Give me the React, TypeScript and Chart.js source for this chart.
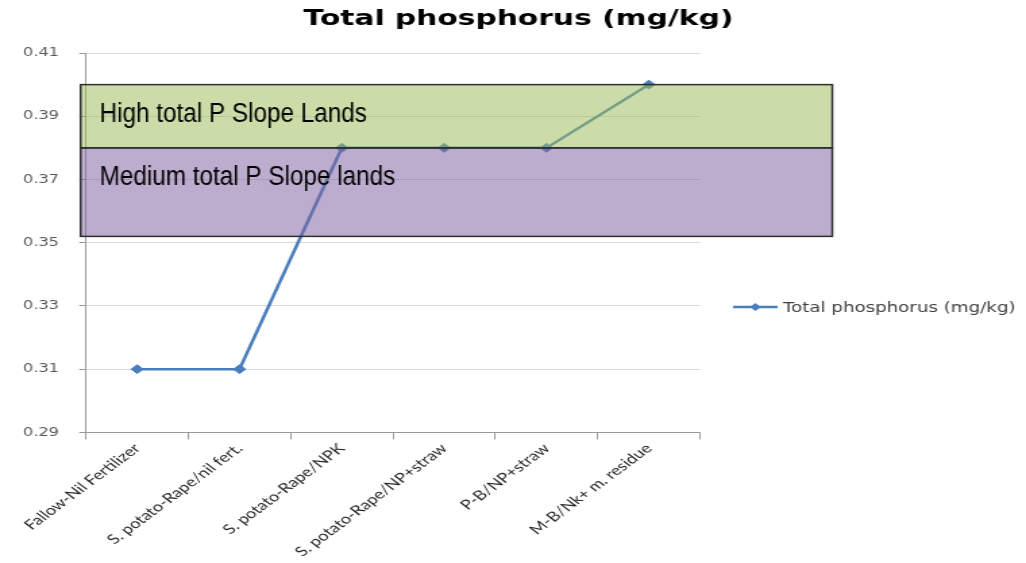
import { useEffect, useRef } from 'react';
import { Chart, registerables } from 'chart.js';

Chart.register(...registerables);

// ---- data ----
const chartTitle = 'Total phosphorus (mg/kg)';
const seriesLabel = 'Total phosphorus (mg/kg)';
const categories = [
  'Fallow-Nil Fertilizer',
  'S. potato-Rape/nil fert.',
  'S. potato-Rape/NPK',
  'S. potato-Rape/NP+straw',
  'P-B/NP+straw',
  'M-B/Nk+ m. residue',
];
const totalPhosphorus = [0.31, 0.31, 0.38, 0.38, 0.38, 0.4];
const yMin = 0.29;
const yMax = 0.41;
const yStep = 0.02;

const bandLabels = ['High total P Slope Lands', 'Medium total P Slope lands'];
const bandUpper = [0.4, 0.38];
const bandLower = [0.38, 0.352];

// ---- styling ----
const PAGE_W = 1026;
const PAGE_H = 563;
const STRETCH_X = 1.35; // the reference picture is horizontally stretched
const CANVAS_W = Math.round(PAGE_W / STRETCH_X);

const LINE_COLOR = '#4a7ebb';
const AXIS_COLOR = '#9a9a9a';
const bandFill = ['rgba(155,187,89,0.52)', 'rgba(128,100,162,0.53)'];

const titlePlugin = {
  id: 'topTitle',
  afterDraw(chart: any) {
    const { ctx } = chart;
    ctx.save();
    ctx.fillStyle = '#000';
    ctx.font = 'bold 22px "DejaVu Sans", sans-serif';
    ctx.textAlign = 'center';
    ctx.textBaseline = 'middle';
    ctx.fillText(chartTitle, chart.width / 2 + 4, 19.5);
    ctx.restore();
  },
};

const bandsPlugin = {
  id: 'bands',
  afterDraw(chart: any) {
    const { ctx, chartArea, scales } = chart;
    const y = scales.y;
    const left = chartArea.left - 4;
    const right = chartArea.right + 98;
    ctx.save();
    const rects = bandLabels.map((_, i) => ({
      top: y.getPixelForValue(bandUpper[i]),
      bottom: y.getPixelForValue(bandLower[i]),
    }));
    rects.forEach((r, i) => {
      ctx.fillStyle = bandFill[i];
      ctx.fillRect(left, r.top, right - left, r.bottom - r.top);
    });
    ctx.lineWidth = 1.5;
    ctx.strokeStyle = '#2e2e2e';
    rects.forEach((r) => {
      ctx.strokeRect(left, r.top, right - left, r.bottom - r.top);
    });
    ctx.fillStyle = '#000';
    ctx.font = '18px "Liberation Sans", Arial, sans-serif';
    ctx.textAlign = 'left';
    ctx.textBaseline = 'middle';
    rects.forEach((r, i) => {
      ctx.save();
      ctx.translate(left + 14, r.top + 30);
      ctx.scale(1, 1.5);
      ctx.fillText(bandLabels[i], 0, 0);
      ctx.restore();
    });
    ctx.restore();
  },
};

const sideLegendPlugin = {
  id: 'sideLegend',
  afterDraw(chart: any) {
    const { ctx, chartArea } = chart;
    const ds = chart.data.datasets[0];
    const yc = (chartArea.top + chart.height) / 2 - 1;
    const x0 = chartArea.right + 24.5;
    const x1 = chartArea.right + 57.5;
    const cx = (x0 + x1) / 2;
    ctx.save();
    ctx.strokeStyle = ds.borderColor;
    ctx.lineWidth = 2.5;
    ctx.beginPath();
    ctx.moveTo(x0, yc);
    ctx.lineTo(x1, yc);
    ctx.stroke();
    ctx.fillStyle = ds.borderColor;
    ctx.beginPath();
    ctx.moveTo(cx - 4, yc);
    ctx.lineTo(cx, yc - 4);
    ctx.lineTo(cx + 4, yc);
    ctx.lineTo(cx, yc + 4);
    ctx.closePath();
    ctx.fill();
    ctx.fillStyle = '#404040';
    ctx.font = '13.5px "DejaVu Sans", sans-serif';
    ctx.textAlign = 'left';
    ctx.textBaseline = 'middle';
    ctx.fillText(ds.label, x1 + 4, yc + 1);
    ctx.restore();
  },
};

export default function App() {
  const ref = useRef<HTMLCanvasElement | null>(null);

  useEffect(() => {
    if (!ref.current) return;
    const chart = new Chart(ref.current, {
      type: 'line',
      data: {
        labels: categories,
        datasets: [
          {
            label: seriesLabel,
            data: totalPhosphorus,
            borderColor: LINE_COLOR,
            backgroundColor: LINE_COLOR,
            borderWidth: 2.5,
            tension: 0,
            pointStyle: 'rectRot',
            pointRadius: 4.5,
            pointBackgroundColor: LINE_COLOR,
            pointBorderColor: LINE_COLOR,
            pointBorderWidth: 1,
          },
        ],
      },
      options: {
        responsive: false,
        animation: false,
        layout: {
          autoPadding: false,
          padding: { left: 2, right: 241.5, top: 53, bottom: 2 },
        },
        plugins: {
          title: { display: false },
          legend: { display: false },
          tooltip: { enabled: false },
        },
        scales: {
          x: {
            type: 'category',
            offset: true,
            grid: {
              display: true,
              drawOnChartArea: false,
              drawTicks: true,
              tickLength: 7,
              offset: true,
              tickColor: AXIS_COLOR,
            },
            border: { color: AXIS_COLOR, width: 1 },
            ticks: {
              autoSkip: false,
              minRotation: 45,
              maxRotation: 45,
              padding: 1,
              color: '#262626',
              font: { family: 'Lato', size: 13.5 },
            },
          },
          y: {
            min: yMin,
            max: yMax,
            ticks: {
              stepSize: yStep,
              padding: 15,
              color: '#595959',
              font: { family: '"DejaVu Sans"', size: 12 },
              callback: (v: any) => Number(v).toFixed(2),
            },
            grid: { color: '#d9d9d9', tickColor: AXIS_COLOR, tickLength: 5 },
            border: { color: AXIS_COLOR, width: 1 },
          },
        },
      },
      plugins: [bandsPlugin, sideLegendPlugin, titlePlugin],
    });
    return () => chart.destroy();
  }, []);

  return (
    <div
      style={{
        position: 'fixed',
        left: 0,
        top: 0,
        width: PAGE_W,
        height: PAGE_H,
        background: '#fff',
      }}
    >
      <canvas
        ref={ref}
        width={CANVAS_W}
        height={PAGE_H}
        style={{ width: PAGE_W + 'px', height: PAGE_H + 'px', display: 'block' }}
      />
    </div>
  );
}
